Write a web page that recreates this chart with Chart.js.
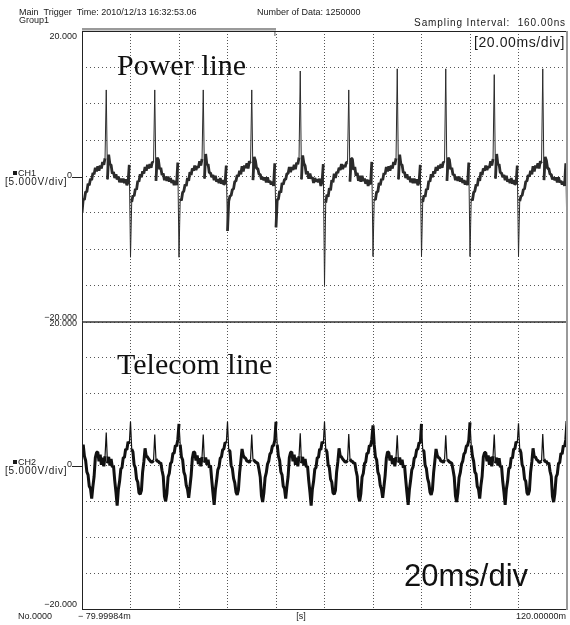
<!DOCTYPE html>
<html>
<head>
<meta charset="utf-8">
<script src="https://cdn.jsdelivr.net/npm/chart.js@4.4.1/dist/chart.umd.min.js"></script>
<style>
  html, body { margin: 0; padding: 0; background: #fff; }
</style>
</head>
<body>
<canvas id="scope" width="570" height="625"></canvas>
<script>
// sample time base: -80 ms .. 120 ms, 0.5 ms per sample
const timeStartMs = -80;
const timeStepMs = 0.5;
const timeMs = Array.from({ length: 401 }, (_, i) => timeStartMs + i * timeStepMs);

// CH1 - power line (V), one row per 20 ms
const ch1Volts = [
  -5.0, -3.1, -3.2, -2.1, -2.1, -1.0, -1.2, -0.3, -0.5, 0.5, 0.3, 1.2, 0.7, 1.4, 0.8, 1.5, 1.1, 2.0, 1.6, 2.5, 11.9, -0.4, 3.0, 1.7, 1.6, 0.4, 0.6, -0.2, 0.3, -0.4, 0.0, -0.8, -0.3, -0.8, -0.3, -0.9, -0.4, -1.2, -0.8, 1.6,
  -11.1, -3.5, -2.6, -2.7, -1.7, -1.8, -0.6, -0.7, 0.3, -0.1, 0.7, 0.4, 1.3, 0.8, 1.6, 1.1, 1.7, 1.2, 2.0, 1.9, 11.9, -0.6, 2.6, 2.3, 1.0, 1.2, 0.2, 0.4, -0.5, 0.0, -0.6, 0.0, -0.7, -0.2, -0.9, -0.5, -1.2, -0.6, -1.2, 1.9,
  -11.1, -3.0, -3.3, -2.2, -2.0, -1.1, -1.3, -0.2, -0.6, 0.6, 0.2, 1.1, 0.8, 1.5, 0.9, 1.4, 1.2, 2.1, 1.5, 2.4, 11.9, -0.3, 3.1, 1.6, 1.7, 0.5, 0.5, -0.1, 0.2, -0.5, 0.1, -0.7, -0.4, -0.9, -0.2, -1.0, -0.5, -1.1, -0.9, 1.5,
  -7.5, -3.4, -2.7, -2.6, -1.8, -1.7, -0.7, -0.6, 0.2, 0.0, 0.8, 0.3, 1.4, 0.7, 1.5, 1.2, 1.8, 1.1, 2.1, 1.8, 11.9, -0.5, 2.7, 2.2, 1.1, 1.1, 0.3, 0.3, -0.4, -0.1, -0.5, -0.1, -0.8, -0.1, -0.8, -0.6, -1.1, -0.7, -1.3, 1.8,
  -7.0, -3.2, -3.1, -2.0, -2.2, -0.9, -1.1, -0.4, -0.4, 0.4, 0.4, 1.3, 0.6, 1.3, 0.9, 1.6, 1.0, 1.9, 1.7, 2.6, 14.5, -0.4, 2.9, 1.8, 1.5, 0.3, 0.7, -0.3, 0.4, -0.3, -0.1, -0.9, -0.2, -0.7, -0.4, -0.8, -0.3, -1.3, -0.7, 1.7,
  -15.0, -3.6, -2.5, -2.8, -1.6, -1.9, -0.5, -0.8, 0.4, -0.2, 0.6, 0.5, 1.2, 0.9, 1.7, 1.0, 1.6, 1.3, 1.9, 2.0, 11.9, -0.7, 2.5, 2.4, 0.9, 1.3, 0.1, 0.5, -0.6, 0.1, -0.7, 0.1, -0.6, -0.3, -1.0, -0.4, -1.3, -0.5, -1.1, 2.0,
  -11.0, -3.1, -3.2, -2.1, -2.1, -0.9, -1.2, -0.3, -0.5, 0.5, 0.3, 1.3, 0.7, 1.4, 0.8, 1.5, 1.1, 2.0, 1.6, 2.5, 14.8, -0.4, 3.0, 1.7, 1.6, 0.5, 0.6, -0.2, 0.3, -0.4, 0.0, -0.8, -0.3, -0.9, -0.3, -0.9, -0.4, -1.2, -0.8, 1.6,
  -11.0, -3.5, -2.6, -2.8, -1.7, -1.8, -0.6, -0.7, 0.3, -0.1, 0.7, 0.4, 1.3, 0.8, 1.5, 1.1, 1.7, 1.2, 2.0, 1.9, 14.8, -0.6, 2.6, 2.3, 1.0, 1.2, 0.2, 0.3, -0.5, 0.0, -0.6, 0.0, -0.7, -0.2, -0.9, -0.5, -1.1, -0.6, -1.2, 1.9,
  -11.0, -3.0, -3.3, -2.2, -2.0, -1.1, -1.3, -0.2, -0.6, 0.6, 0.2, 1.1, 0.8, 1.5, 0.9, 1.4, 1.2, 2.1, 1.5, 2.4, 14.0, -0.3, 3.1, 1.6, 1.7, 0.5, 0.5, -0.1, 0.2, -0.5, 0.1, -0.7, -0.4, -0.9, -0.2, -1.0, -0.5, -1.1, -0.9, 1.5,
  -11.0, -3.4, -2.7, -2.6, -1.8, -1.7, -0.7, -0.6, 0.2, 0.0, 0.8, 0.3, 1.4, 0.7, 1.5, 1.2, 1.8, 1.1, 2.1, 1.8, 14.8, -0.5, 2.7, 2.2, 1.1, 1.1, 0.3, 0.3, -0.4, -0.1, -0.5, -0.1, -0.8, -0.1, -0.8, -0.6, -1.1, -0.7, -1.3, 1.8,
  -8.5
];

// CH2 - telecom line (V), one row per 20 ms
const ch2Volts = [
  2.0, 2.9, 1.3, 0.7, -0.9, -1.3, -2.9, -3.2, -4.6, -2.9, -1.5, 1.1, 1.8, 1.9, 0.6, 1.5, 0.1, 1.1, -0.1, 1.3, 4.6, 0.3, 1.2, 0.0, 0.9, -0.2, -0.1, -2.1, -3.7, -5.6, -3.3, -2.2, -0.5, -0.3, 1.1, 1.1, 2.3, 2.2, 3.3, 3.0,
  6.1, 2.3, 1.9, 0.1, -0.3, -1.9, -2.3, -3.8, -4.0, -3.5, -0.9, 0.5, 2.4, 1.3, 1.2, 0.9, 0.7, 0.5, 0.5, 0.7, 4.3, 0.9, 0.6, 0.6, 0.3, 0.4, -0.7, -1.5, -4.3, -5.0, -3.9, -1.6, -1.1, 0.3, 0.5, 1.7, 1.7, 2.8, 2.7, 3.6,
  5.8, 2.9, 1.2, 0.8, -0.9, -1.4, -2.8, -3.3, -4.5, -3.0, -1.4, 1.0, 1.9, 1.8, 0.7, 1.4, 0.2, 1.0, -0.1, 1.2, 4.3, 0.4, 1.1, 0.1, 0.8, -0.3, 0.0, -2.0, -3.8, -5.5, -3.4, -2.1, -0.6, -0.2, 1.0, 1.2, 2.2, 2.3, 3.2, 3.1,
  6.1, 2.2, 2.0, 0.0, -0.4, -1.8, -2.4, -3.7, -4.1, -3.4, -1.0, 0.6, 2.3, 1.4, 1.1, 1.0, 0.6, 0.6, 0.4, 0.8, 4.3, 0.8, 0.7, 0.5, 0.4, 0.3, -0.6, -1.6, -4.2, -5.1, -3.8, -1.7, -1.0, 0.2, 0.6, 1.6, 1.8, 2.7, 2.8, 3.5,
  6.1, 2.9, 1.3, 0.7, -0.9, -1.3, -2.9, -3.2, -4.6, -2.9, -1.5, 1.1, 1.8, 1.9, 0.6, 1.5, 0.1, 1.1, -0.1, 1.3, 4.5, 0.3, 1.2, 0.0, 0.9, -0.2, -0.1, -2.1, -3.7, -5.6, -3.3, -2.2, -0.5, -0.3, 1.1, 1.1, 2.3, 2.2, 3.3, 3.0,
  6.1, 2.3, 1.9, 0.1, -0.3, -1.9, -2.3, -3.8, -4.0, -3.5, -0.9, 0.5, 2.4, 1.3, 1.2, 0.9, 0.7, 0.5, 0.5, 0.7, 4.4, 0.9, 0.6, 0.6, 0.3, 0.4, -0.7, -1.5, -4.3, -5.0, -3.9, -1.6, -1.1, 0.3, 0.5, 1.7, 1.7, 2.8, 2.7, 3.6,
  5.6, 2.9, 1.2, 0.8, -0.9, -1.4, -2.8, -3.3, -4.5, -3.0, -1.4, 1.0, 1.9, 1.8, 0.7, 1.4, 0.2, 1.0, -0.1, 1.2, 4.2, 0.4, 1.1, 0.1, 0.8, -0.3, 0.0, -2.0, -3.8, -5.5, -3.4, -2.1, -0.6, -0.2, 1.0, 1.2, 2.2, 2.3, 3.2, 3.1,
  5.8, 2.2, 2.0, 0.0, -0.4, -1.8, -2.4, -3.7, -4.1, -3.4, -1.0, 0.6, 2.3, 1.4, 1.1, 1.0, 0.6, 0.6, 0.4, 0.8, 4.2, 0.8, 0.7, 0.5, 0.4, 0.3, -0.6, -1.6, -4.2, -5.1, -3.8, -1.7, -1.0, 0.2, 0.6, 1.6, 1.8, 2.7, 2.8, 3.5,
  6.0, 2.8, 1.3, 0.6, -0.9, -1.2, -2.9, -3.3, -4.6, -2.8, -1.5, 1.2, 1.8, 1.8, 0.6, 1.4, 0.1, 1.2, -0.1, 1.3, 4.3, 0.3, 1.1, 0.0, 1.0, -0.2, -0.1, -2.2, -3.7, -5.5, -3.3, -2.2, -0.4, -0.3, 1.1, 1.0, 2.3, 2.3, 3.3, 3.1,
  5.9, 2.3, 1.8, 0.1, -0.3, -1.9, -2.2, -3.8, -4.1, -3.5, -0.9, 0.5, 2.4, 1.2, 1.2, 0.8, 0.7, 0.4, 0.5, 0.6, 4.4, 0.9, 0.5, 0.6, 0.2, 0.4, -0.8, -1.5, -4.3, -5.1, -3.9, -1.6, -1.2, 0.3, 0.4, 1.7, 1.6, 2.8, 2.6, 3.6,
  6.2
];

const headerLines = ['Main  Trigger  Time: 2010/12/13 16:32:53.06', 'Group1', 'Number of Data: 1250000', 'Sampling Interval:  160.00ns'];
const timeDivLabel = '[20.00ms/div]';
const channelNames = ['CH1', 'CH2'];
const channelTitles = ['Power line', 'Telecom line'];
const voltDivLabel = '[5.000V/div]';
const yLimitLabels = ['20.000', '\u221220.000'];
const xEdgeLabels = ['\u2212 79.99984m', '[s]', '120.00000m'];
const recordLabel = 'No.0000';
const noteLabel = '20ms/div';

const toPoints = vals => vals.map((v, i) => ({ x: timeMs[i], y: v }));

const small = '9px "Liberation Sans"';

const scopeText = {
  id: 'scopeText',
  afterDraw(chart) {
    const { ctx, chartArea: a, scales } = chart;
    const yP = scales.yPower, yT = scales.yTelecom, xs = scales.x;
    const split = Math.round(yP.bottom);
    ctx.save();

    // frame
    ctx.strokeStyle = '#222';
    ctx.lineWidth = 1;
    ctx.beginPath();
    ctx.moveTo(a.left + 0.5, a.top); ctx.lineTo(a.left + 0.5, a.bottom + 1);
    ctx.moveTo(a.left, a.top + 0.5); ctx.lineTo(a.right, a.top + 0.5);
    ctx.moveTo(a.left, a.bottom + 0.5); ctx.lineTo(a.right, a.bottom + 0.5);
    ctx.stroke();
    ctx.strokeStyle = '#333';
    ctx.lineWidth = 1.5;
    ctx.beginPath(); ctx.moveTo(a.left, split); ctx.lineTo(a.right, split); ctx.stroke();
    ctx.strokeStyle = '#999';
    ctx.lineWidth = 2;
    ctx.beginPath(); ctx.moveTo(a.right, a.top); ctx.lineTo(a.right, a.bottom + 1); ctx.stroke();

    // trigger bar
    const trigX = xs.getPixelForValue(0);
    ctx.fillStyle = '#9a9a9a';
    ctx.fillRect(a.left, a.top - 3, trigX - a.left, 2.5);
    ctx.fillStyle = '#222';
    ctx.font = '8px "Liberation Sans"';
    ctx.textAlign = 'center';
    ctx.textBaseline = 'middle';
    ctx.fillText('T', trigX - 1, a.top + 3);

    // header
    ctx.fillStyle = '#1a1a1a';
    ctx.font = small;
    ctx.textAlign = 'left';
    ctx.fillText(headerLines[0], 19, 13);
    ctx.fillText(headerLines[1], 19, 21);
    ctx.fillText(headerLines[2], 257, 13);
    ctx.font = '10px "Liberation Sans"';
    ctx.letterSpacing = '0.9px';
    ctx.textAlign = 'right';
    ctx.fillText(headerLines[3], a.right - 1, 23);

    ctx.font = '14px "Liberation Sans"';
    ctx.letterSpacing = '0.6px';
    ctx.fillText(timeDivLabel, a.right - 2, 43);
    ctx.letterSpacing = '0px';

    // y limits
    ctx.font = small;
    ctx.textAlign = 'right';
    ctx.fillText(yLimitLabels[0], 77, a.top + 6);
    ctx.fillText(yLimitLabels[1], 77, split - 4);
    ctx.fillText(yLimitLabels[0], 77, split + 2);
    ctx.fillText(yLimitLabels[1], 77, a.bottom - 4);

    // channel labels + zero markers
    [yP, yT].forEach((ys, k) => {
      const zy = Math.round(ys.getPixelForValue(0));
      ctx.font = small;
      ctx.textAlign = 'left';
      ctx.fillRect(13, zy - 6, 4, 4);
      ctx.fillText(channelNames[k], 18, zy - 3);
      ctx.font = '10px "Liberation Sans"';
      ctx.letterSpacing = '0.8px';
      ctx.fillText(voltDivLabel, 5, zy + 5);
      ctx.letterSpacing = '0px';
      ctx.font = small;
      ctx.fillText('0', 67, zy - 1);
      ctx.strokeStyle = '#222';
      ctx.lineWidth = 1;
      ctx.beginPath(); ctx.moveTo(72, zy + 0.5); ctx.lineTo(a.left, zy + 0.5); ctx.stroke();

      ctx.font = '30px "Liberation Serif"';
      ctx.fillStyle = '#111';
      ctx.textBaseline = 'alphabetic';
      ctx.fillText(channelTitles[k], 117, ys.top + (k === 0 ? 44 : 52));
      ctx.textBaseline = 'middle';
      ctx.fillStyle = '#1a1a1a';
    });

    // bottom labels
    ctx.font = small;
    ctx.textAlign = 'left';
    ctx.fillText(recordLabel, 18, 617);
    ctx.fillText(xEdgeLabels[0], 78, 617);
    ctx.textAlign = 'center';
    ctx.fillText(xEdgeLabels[1], 301, 617);
    ctx.textAlign = 'right';
    ctx.fillText(xEdgeLabels[2], 566, 617);

    ctx.font = '31px "Liberation Sans"';
    ctx.fillStyle = '#111';
    ctx.textAlign = 'left';
    ctx.fillText(noteLabel, 404, 577);

    ctx.restore();
  }
};

const gridY = {
  color: '#555',
  lineWidth: 1,
  drawTicks: false
};

new Chart(document.getElementById('scope'), {
  type: 'line',
  data: {
    datasets: [
      {
        label: 'CH1',
        data: toPoints(ch1Volts),
        yAxisID: 'yPower',
        borderColor: '#2b2b2b',
        borderWidth: 2.8,
        borderJoinStyle: 'bevel',
        pointRadius: 0,
        tension: 0,
        segment: {
          borderWidth: c => Math.abs(c.p1.parsed.y - c.p0.parsed.y) > 5 ? 1 : 2.8
        }
      },
      {
        label: 'CH2',
        data: toPoints(ch2Volts),
        yAxisID: 'yTelecom',
        borderColor: '#111',
        borderWidth: 3,
        borderJoinStyle: 'bevel',
        pointRadius: 0,
        tension: 0,
        segment: {
          borderWidth: c => Math.abs(c.p1.parsed.y - c.p0.parsed.y) > 2.8 ? 1.2 : 3
        }
      }
    ]
  },
  options: {
    responsive: false,
    animation: false,
    devicePixelRatio: 1,
    parsing: false,
    layout: { padding: { left: 82, right: 3, top: 31, bottom: 16 } },
    plugins: { legend: { display: false }, tooltip: { enabled: false } },
    scales: {
      x: {
        type: 'linear',
        min: -80,
        max: 120,
        ticks: { display: false, stepSize: 20 },
        grid: { color: '#555', lineWidth: 1, drawTicks: false },
        border: { display: false, dash: [1, 2] }
      },
      // stacked axes: the later one in this object is laid out on top
      yTelecom: {
        type: 'linear',
        position: 'left',
        stack: 'scope',
        stackWeight: 287,
        min: -20,
        max: 20,
        ticks: { display: false, stepSize: 5 },
        grid: gridY,
        border: { display: false, dash: [1, 3] }
      },
      yPower: {
        type: 'linear',
        position: 'left',
        stack: 'scope',
        stackWeight: 291,
        min: -20,
        max: 20,
        ticks: { display: false, stepSize: 5 },
        grid: gridY,
        border: { display: false, dash: [1, 3] }
      }
    }
  },
  plugins: [scopeText]
});
</script>
</body>
</html>
